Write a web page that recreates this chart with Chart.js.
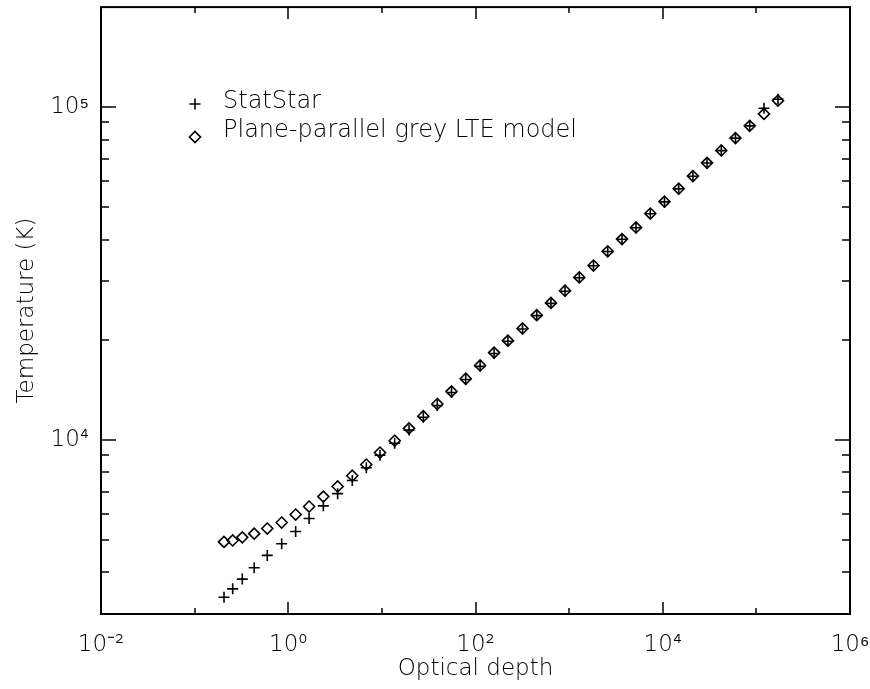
<!DOCTYPE html>
<html>
<head>
<meta charset="utf-8">
<script src="https://cdn.jsdelivr.net/npm/chart.js@4.4.1/dist/chart.umd.min.js"></script>
<style>
  html, body { margin: 0; padding: 0; background: #fff; }
  #wrap { width: 870px; height: 689px; }
</style>
</head>
<body>
<div id="wrap"><canvas id="chart" width="870" height="689"></canvas></div>
<script>
// data
const opticalDepth = [0.206, 0.255, 0.323, 0.433, 0.597, 0.851, 1.20, 1.67, 2.37, 3.37,
  4.83, 6.82, 9.55, 13.7, 19.5, 27.7, 39.1, 55.4, 78.6, 112,
  158, 222, 318, 451, 640, 904, 1285, 1821, 2582, 3672,
  5180, 7360, 10440, 14800, 21000, 29700, 42200, 59800, 84900, 120600, 170200];
const tempStatStar = [3370, 3570, 3820, 4130, 4500, 4880, 5310, 5810, 6340, 6900,
  7560, 8250, 9000, 9780, 10710, 11710, 12700, 13900, 15200, 16650,
  18200, 19800, 21550, 23650, 25750, 28000, 30750, 33400, 36850, 40100,
  43450, 47850, 51950, 56850, 62050, 68000, 74100, 80750, 87900, 99300, 105700];
const tempGrey = [4940, 4990, 5100, 5230, 5420, 5650, 5970, 6310, 6760, 7250,
  7810, 8440, 9170, 9950, 10840, 11790, 12830, 14000, 15280, 16750,
  18310, 19890, 21640, 23730, 25830, 28100, 30810, 33450, 36910, 40170,
  43530, 47930, 52040, 56910, 62110, 68060, 74170, 80800, 87950, 95500, 104700];
const seriesNames = ['StatStar', 'Plane-parallel grey LTE model'];

// axes
const xMajorTicks = [1e-2, 1e0, 1e2, 1e4, 1e6];
const xTickLabels = ['10⁻²', '10⁰', '10²', '10⁴', '10⁶'];
const xMinorTicks = [1e-1, 1e1, 1e3, 1e5];
const yMajorTicks = [1e4, 1e5];
const yTickLabels = ['10⁴', '10⁵'];
const yMinorTicks = [3000, 4000, 5000, 6000, 7000, 8000, 9000,
  20000, 30000, 40000, 50000, 60000, 70000, 80000, 90000];

const FONT = '"DejaVu Sans", "Liberation Sans", sans-serif';
const toPoints = (xs, ys) => xs.map((v, i) => ({ x: v, y: ys[i] }));

// inward tick marks on all four sides + frame + legend
const frameTicks = {
  id: 'frameTicks',
  afterDraw(chart) {
    const { ctx, chartArea: a, scales: { x, y } } = chart;
    ctx.save();
    ctx.strokeStyle = '#000';
    ctx.lineWidth = 1.5;
    const line = (x1, y1, x2, y2) => { ctx.beginPath(); ctx.moveTo(x1, y1); ctx.lineTo(x2, y2); ctx.stroke(); };

    xMajorTicks.concat(xMinorTicks).forEach(v => {
      const len = xMajorTicks.includes(v) ? 12 : 6;
      const px = Math.round(x.getPixelForValue(v));
      line(px, a.bottom, px, a.bottom - len);
      line(px, a.top, px, a.top + len);
    });
    yMajorTicks.concat(yMinorTicks).forEach(v => {
      const len = yMajorTicks.includes(v) ? 15 : 8;
      const py = Math.round(y.getPixelForValue(v));
      line(a.left, py, a.left + len, py);
      line(a.right, py, a.right - len, py);
    });

    ctx.lineWidth = 2;
    ctx.strokeRect(a.left, a.top, a.right - a.left, a.bottom - a.top);

    // legend
    const legendX = 195, legendY = [104, 137];
    const textX = 223, textY = [108, 137];
    chart.data.datasets.forEach((ds, i) => {
      ctx.fillStyle = 'rgba(0,0,0,0)';
      ctx.strokeStyle = '#000';
      ctx.lineWidth = ds.borderWidth;
      Chart.helpers.drawPoint(ctx, {
        pointStyle: ds.pointStyle, radius: ds.pointRadius, borderWidth: ds.borderWidth, rotation: 0
      }, legendX, legendY[i]);
      ctx.fillStyle = '#000';
      ctx.font = '200 24px ' + FONT;
      ctx.textBaseline = 'alphabetic';
      ctx.textAlign = 'left';
      ctx.fillText(seriesNames[i], textX, textY[i]);
    });
    ctx.restore();
  }
};

new Chart(document.getElementById('chart'), {
  type: 'scatter',
  data: {
    datasets: [{
      label: seriesNames[0],
      data: toPoints(opticalDepth, tempStatStar),
      pointStyle: 'cross',
      pointRadius: 5.5,
      borderWidth: 1.6,
      borderColor: '#000',
      backgroundColor: 'transparent'
    }, {
      label: seriesNames[1],
      data: toPoints(opticalDepth, tempGrey),
      pointStyle: 'rectRot',
      pointRadius: 5.5,
      borderWidth: 1.6,
      borderColor: '#000',
      backgroundColor: 'transparent'
    }]
  },
  options: {
    responsive: false,
    animation: false,
    devicePixelRatio: 1,
    layout: { padding: { top: 3, right: 20, left: 0, bottom: 0 } },
    plugins: { legend: { display: false }, tooltip: { enabled: false } },
    elements: { point: { hoverRadius: 5.5 } },
    scales: {
      x: {
        type: 'logarithmic',
        min: 1e-2,
        max: 1e6,
        afterBuildTicks: s => { s.ticks = xMajorTicks.map(v => ({ value: v })); },
        afterFit: s => { s.height = 75; s.paddingLeft = 0; s.paddingRight = 0; },
        ticks: {
          autoSkip: false,
          maxRotation: 0,
          padding: 17,
          color: '#000',
          font: { family: FONT, size: 23, weight: 200 },
          callback: (v) => xTickLabels[xMajorTicks.indexOf(v)]
        },
        grid: { display: false, drawTicks: false },
        border: { display: false },
        title: {
          display: true,
          text: 'Optical depth',
          color: '#000',
          font: { family: FONT, size: 23, weight: 200 },
          padding: { top: 0, bottom: 6 }
        }
      },
      y: {
        type: 'logarithmic',
        min: 3000,
        max: 2e5,
        afterBuildTicks: s => { s.ticks = yMajorTicks.map(v => ({ value: v })); },
        afterFit: s => { s.width = 101; s.paddingTop = 0; s.paddingBottom = 0; },
        ticks: {
          autoSkip: false,
          padding: 12,
          color: '#000',
          font: { family: FONT, size: 23, weight: 200 },
          callback: (v) => yTickLabels[yMajorTicks.indexOf(v)]
        },
        grid: { display: false, drawTicks: false },
        border: { display: false },
        title: {
          display: true,
          text: 'Temperature (K)',
          color: '#000',
          font: { family: FONT, size: 23, weight: 200 },
          padding: { top: 13, bottom: 0 }
        }
      }
    }
  },
  plugins: [frameTicks]
});
</script>
</body>
</html>
